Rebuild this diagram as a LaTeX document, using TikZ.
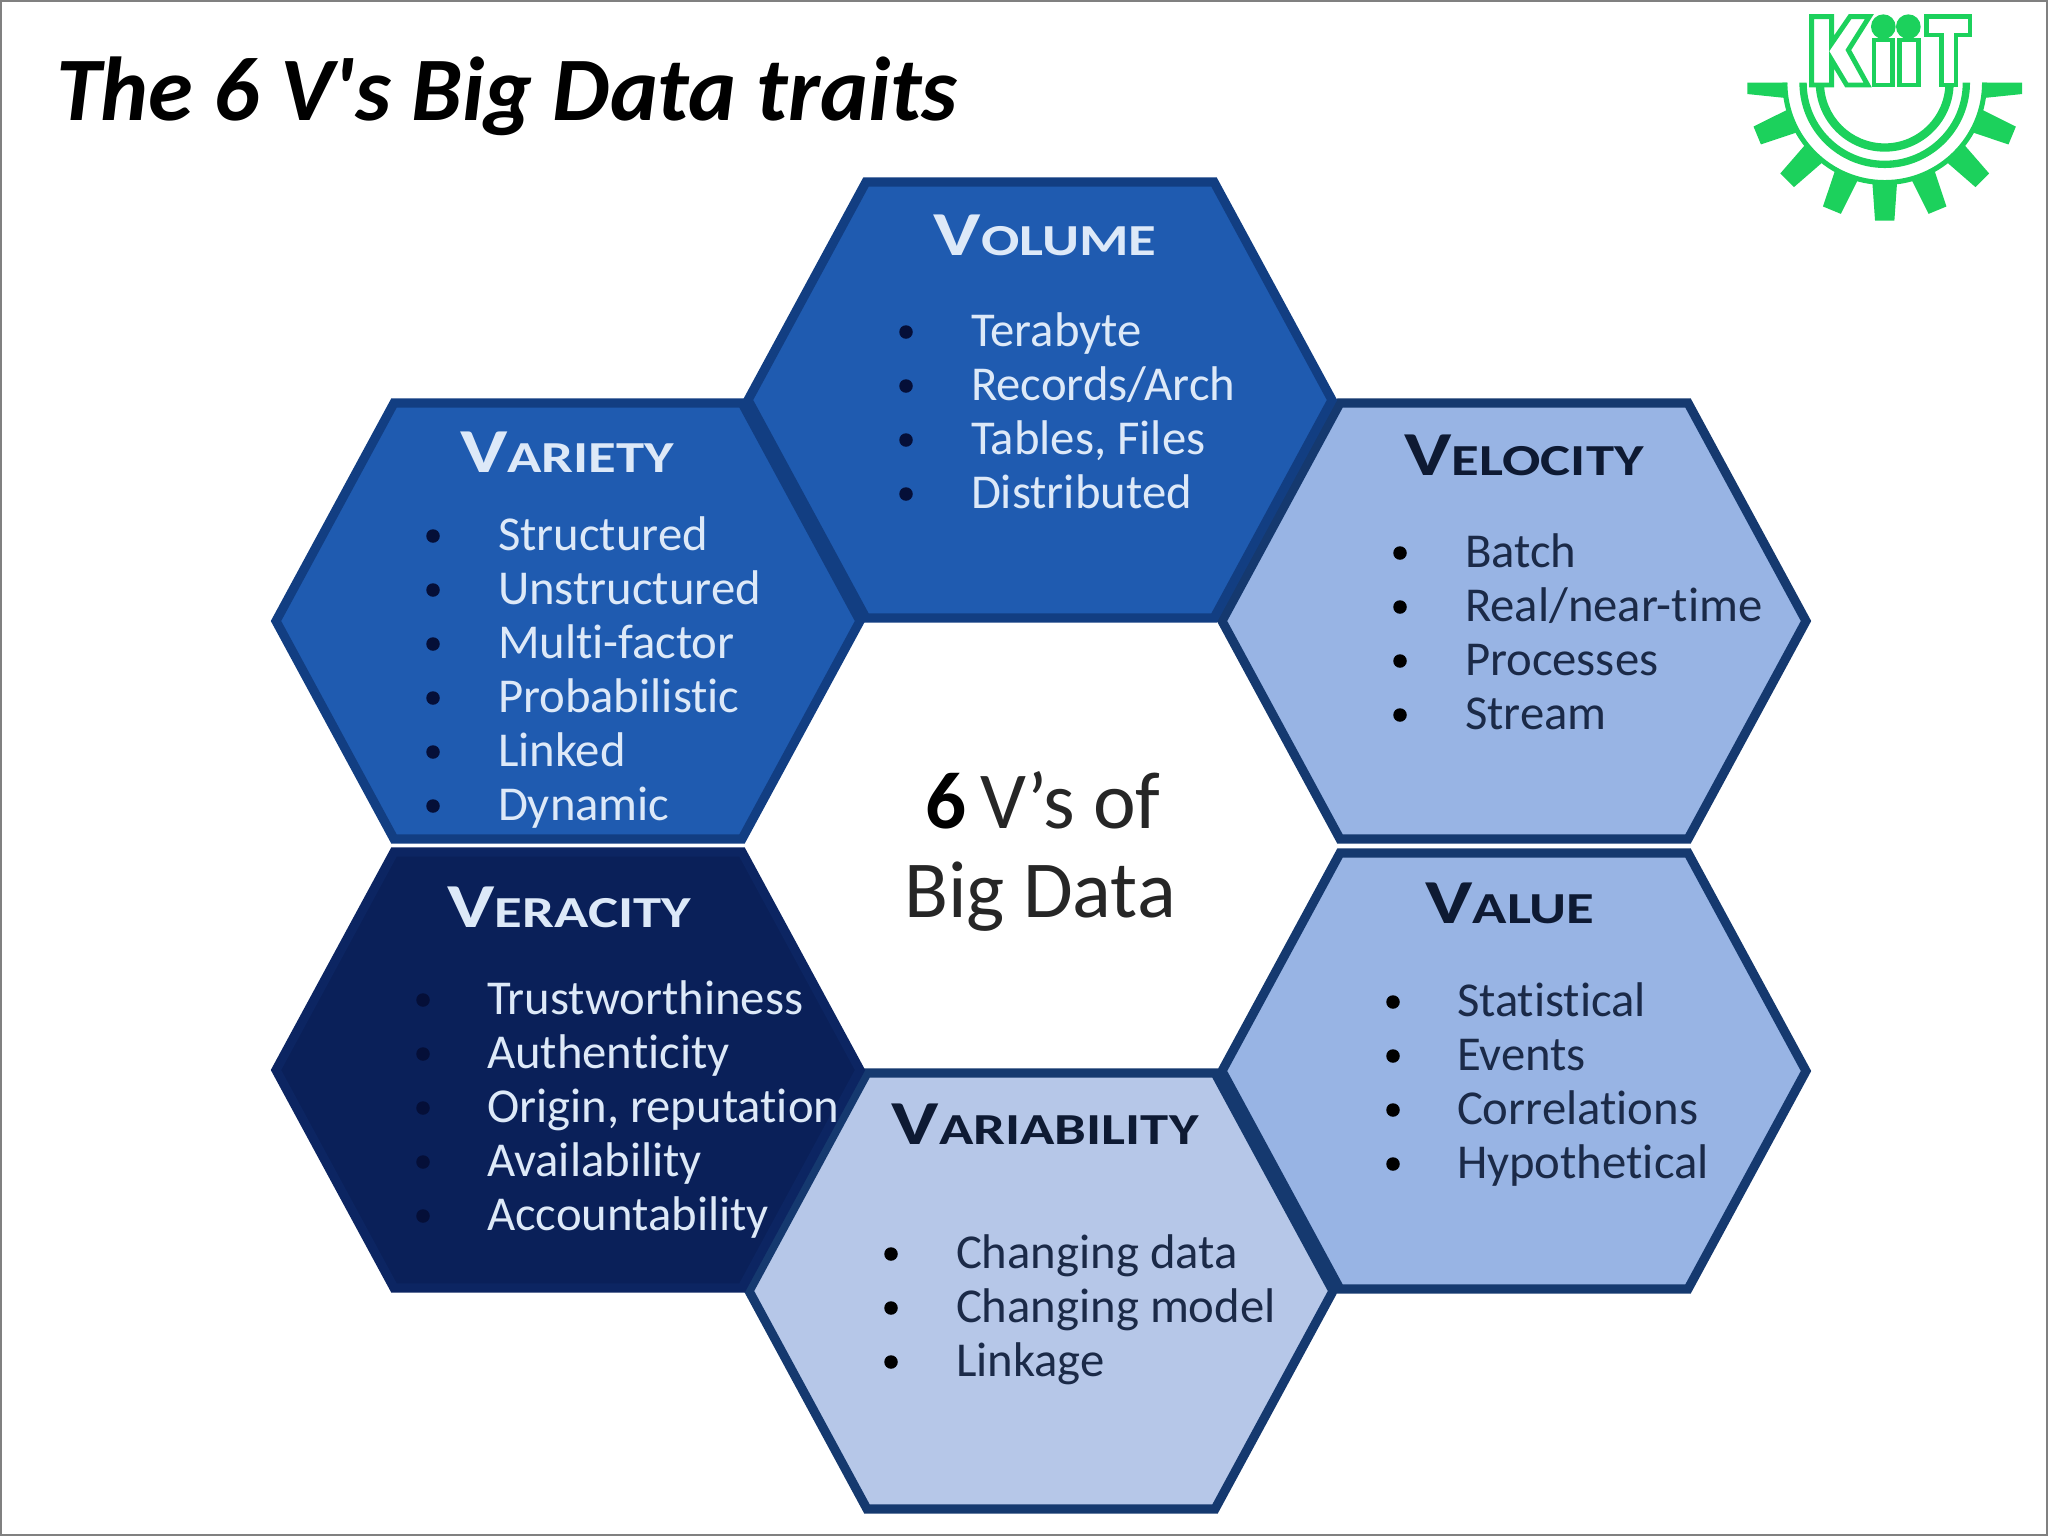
\documentclass[tikz,border=0pt]{standalone}
\usepackage{fontspec}
\setmainfont[Ligatures=NoCommon]{Carlito}
\newfontfamily\titlefont[Ligatures=NoCommon]{Carlito}
\newfontfamily\headfont[Ligatures=NoCommon, FakeStretch=1.28]{Carlito}
\definecolor{kiitgreen}{HTML}{1CD15C}
\definecolor{deepblue}{HTML}{1F5BB0}
\definecolor{deepline}{HTML}{123E82}
\definecolor{paleblue}{HTML}{98B4E4}
\definecolor{mistblue}{HTML}{B6C7E8}
\definecolor{navyblue}{HTML}{0A2059}
\definecolor{navyline}{HTML}{0C2562}
\definecolor{paleline}{HTML}{15396F}
\definecolor{lighttext}{HTML}{DDE9F8}
\definecolor{darktext}{HTML}{1B2A48}
\definecolor{headdark}{HTML}{0E1A33}
\definecolor{bulletdark}{HTML}{050F38}
\newcommand{\vhead}[2]{{\headfont\bfseries\fontsize{17.8}{20}\selectfont #1}{\headfont\bfseries\fontsize{12.6}{15}\selectfont #2}}
\newcommand{\traitlist}[6]{
  \foreach \t [count=\n from 0] in {#6} {
    \node [bullet=#2] (#1-dot-\n) at (#3, {#5+54*\n-14}) {};
    \node [trait, text=lighttext] (#1-\n) at (#4, {#5+54*\n}) {\t};
  }
}
\newcommand{\darklist}[5]{
  \foreach \t [count=\n from 0] in {#5} {
    \node [bullet=black] (#1-dot-\n) at (#2, {#4+54*\n-14}) {};
    \node [trait, text=darktext] (#1-\n) at (#3, {#4+54*\n}) {\t};
  }
}
\begin{document}
\begin{tikzpicture}[x=0.01cm, y=-0.01cm,
  every node/.style = {inner sep=0pt, outer sep=0pt}]
    \tikzstyle{hexcell}=[line width=2.6pt, line join=miter]
    \tikzstyle{trait}=[anchor=base west, font=\fontsize{13.85}{16}\selectfont]
    \tikzstyle{bullet}=[circle, minimum size=1.35mm, fill=#1]
    \tikzstyle{vtitle}=[anchor=base]
    \tikzstyle{hub}=[anchor=base, font=\fontsize{23}{28}\selectfont, text=black!85]
  \useasboundingbox (0,0) rectangle (2048,1536);
  \draw [gray, line width=0.5pt] (1,1) rectangle (2047,1535);
  \node [anchor=base west, font=\titlefont\fontsize{25.8}{30}\selectfont\bfseries\itshape] (title) at (56,120) {The 6 V's Big Data traits};

  \foreach \cx/\cy/\cfill/\cline in {1514/621/paleblue/paleline, 1514/1071/paleblue/paleline,
      1041/1291/mistblue/paleline, 568/1070/navyblue/navyline, 568/621/deepblue/deepline,
      1040/400/deepblue/deepline}
    \draw [hexcell, fill=\cfill, draw=\cline] (\cx-174,\cy-218) -- (\cx+174,\cy-218) -- (\cx+292,\cy)
      -- (\cx+174,\cy+218) -- (\cx-174,\cy+218) -- (\cx-292,\cy) -- cycle;

  \node [vtitle, text=lighttext] (volume) at (1045,255) {\vhead{V}{OLUME}};
  \node [vtitle, text=lighttext] (variety) at (567,472) {\vhead{V}{ARIETY}};
  \node [vtitle, text=headdark] (velocity) at (1524,475) {\vhead{V}{ELOCITY}};
  \node [vtitle, text=lighttext] (veracity) at (569,927) {\vhead{V}{ERACITY}};
  \node [vtitle, text=headdark] (value) at (1510,923) {\vhead{V}{ALUE}};
  \node [vtitle, text=headdark] (variability) at (1045,1144) {\vhead{V}{ARIABILITY}};

  \traitlist{vol}{bulletdark}{906}{971}{346}{Terabyte, Records/Arch, {Tables, Files}, Distributed}
  \traitlist{var}{bulletdark}{433}{498}{550}{Structured, Unstructured, Multi-factor, Probabilistic, Linked, Dynamic}
  \traitlist{ver}{bulletdark}{423}{487}{1014}{Trustworthiness, Authenticity, {Origin, reputation}, Availability, Accountability}
  \darklist{vel}{1400}{1465}{567}{Batch, Real/near-time, Processes, Stream}
  \darklist{val}{1393}{1457}{1016}{Statistical, Events, Correlations, Hypothetical}
  \darklist{vab}{891}{956}{1268}{Changing data, Changing model, Linkage}

  \node [hub] (hubtop) at (1043,828) {{\color{black}\textbf{6}}\,V’s of};
  \node [hub] (hubbottom) at (1040,917) {Big Data};

  \begin{scope}[shift={(1884.7,82.7)}, scale=0.3333, kiitgreen]
    \foreach \r/\s in {207/182, 256/234, 307/292}
      \fill (0:\r) arc [start angle=0, end angle=180, radius=\r] -- (180:\s)
        arc [start angle=180, end angle=0, radius=\s] -- cycle;
    \foreach \a in {22.5, 45, 67.5, 90, 112.5, 135, 157.5}
      \fill [rotate=-\a] (300,-37) -- (414,-29) -- (414,29) -- (300,37) -- cycle;
    \fill (-412,0) -- (-412,34) -- (-296,46) -- (-292,0) -- cycle;
    \fill (412,0) -- (412,34) -- (296,46) -- (292,0) -- cycle;
  \end{scope}
  \begin{scope}[shift={(1800,5)}, scale=0.3333, draw=kiitgreen, fill=kiitgreen]
    \draw [line width=1.4pt, fill=white] (35,35) -- (95,35) -- (95,115) -- (150,35) -- (208,35) -- (145,135)
      -- (203,240) -- (140,240) -- (95,165) -- (95,240) -- (35,240) -- cycle;
    \draw [line width=1.4pt, fill=white] (222,105) rectangle (278,240);
    \draw [line width=1.4pt, fill=white] (298,105) rectangle (355,240);
    \fill (250,65) circle [radius=37];
    \fill (325,65) circle [radius=37];
    \draw [line width=1.4pt, fill=white] (380,35) -- (510,35) -- (510,90) -- (468,90) -- (468,240)
      -- (425,240) -- (425,90) -- (380,90) -- cycle;
  \end{scope}
\end{tikzpicture}
\end{document}
